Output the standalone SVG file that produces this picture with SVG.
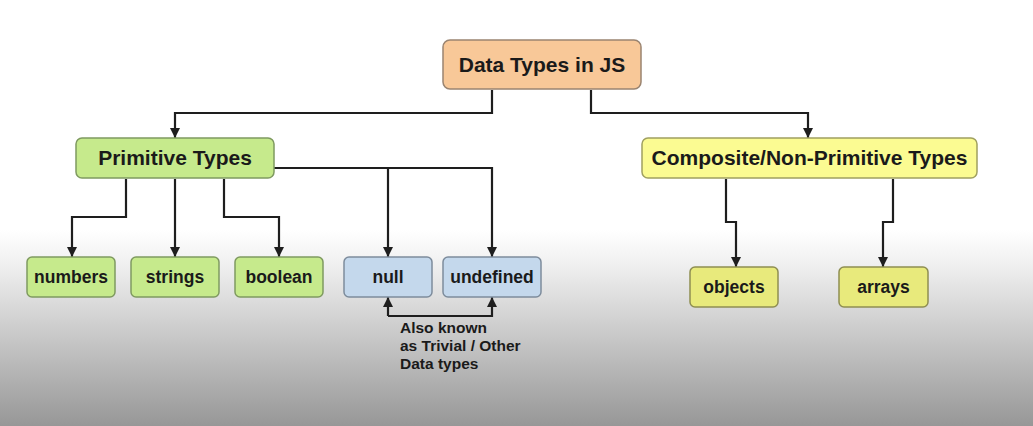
<svg xmlns="http://www.w3.org/2000/svg" width="1033" height="426" viewBox="0 0 1033 426">
<defs>
<linearGradient id="bg" x1="0" y1="0" x2="0" y2="1">
<stop offset="0" stop-color="#ffffff"/>
<stop offset="0.54" stop-color="#ffffff"/>
<stop offset="0.62" stop-color="#f0f0f0"/>
<stop offset="1" stop-color="#979797"/>
</linearGradient>
<marker id="arr" viewBox="0 0 10 10" refX="10" refY="5" markerWidth="10" markerHeight="10" markerUnits="userSpaceOnUse" orient="auto">
<path d="M0,0 L10,5 L0,10 Z" fill="#1e1e1e"/>
</marker>
<style>
.lbl{font-family:"Liberation Sans",Arial,sans-serif;font-weight:bold;fill:#1a1a1a;text-anchor:middle}
.big{font-size:21px}
.small{font-size:17.5px}
.note{font-family:"Liberation Sans",Arial,sans-serif;font-weight:bold;font-size:15.5px;fill:#1a1a1a}
.c{fill:none;stroke:#1e1e1e;stroke-width:2.2}
.root{fill:#f8c898;stroke:#9a8470;stroke-width:1.5}
.green{fill:#c6ea8c;stroke:#7f9a60;stroke-width:1.5}
.blue{fill:#c4d8ec;stroke:#7d8c9c;stroke-width:1.5}
.yellow{fill:#fbfb92;stroke:#a0a060;stroke-width:1.5}
.yleaf{fill:#e8ea7c;stroke:#8e8e52;stroke-width:1.5}
</style>
</defs>
<rect x="0" y="0" width="1033" height="426" fill="url(#bg)"/>
<g id="connectors">
<path class="c" d="M492,90 V113 H175 V138" marker-end="url(#arr)"/>
<path class="c" d="M591,90 V113 H808 V138" marker-end="url(#arr)"/>
<path class="c" d="M126,179 V217 H72 V257" marker-end="url(#arr)"/>
<path class="c" d="M175,179 V257" marker-end="url(#arr)"/>
<path class="c" d="M224,179 V217 H279 V257" marker-end="url(#arr)"/>
<path class="c" d="M274,168 H492 V257" marker-end="url(#arr)"/>
<path class="c" d="M388,168 V257" marker-end="url(#arr)"/>
<path class="c" d="M388,316 V297" marker-end="url(#arr)"/>
<path class="c" d="M388,316 H492 V297" marker-end="url(#arr)"/>
<path class="c" d="M726,179 V222 H736 V267" marker-end="url(#arr)"/>
<path class="c" d="M893,179 V222 H883 V267" marker-end="url(#arr)"/>
</g>
<g id="root"><rect class="root" x="443" y="40" width="198" height="49" rx="7"/><text class="lbl big" x="542" y="72">Data Types in JS</text></g>
<g id="primitive"><rect class="green" x="76" y="138" width="198" height="40" rx="6"/><text class="lbl big" x="175" y="165">Primitive Types</text></g>
<g id="composite"><rect class="yellow" x="642" y="138" width="335" height="40" rx="6"/><text class="lbl big" x="809.5" y="165">Composite/Non-Primitive Types</text></g>
<g id="numbers"><rect class="green" x="27" y="257" width="88" height="40" rx="5"/><text class="lbl small" x="71" y="283">numbers</text></g>
<g id="strings"><rect class="green" x="131" y="257" width="88" height="40" rx="5"/><text class="lbl small" x="175" y="283">strings</text></g>
<g id="boolean"><rect class="green" x="235" y="257" width="88" height="40" rx="5"/><text class="lbl small" x="279" y="283">boolean</text></g>
<g id="null"><rect class="blue" x="344" y="257" width="88" height="40" rx="5"/><text class="lbl small" x="388" y="283">null</text></g>
<g id="undefined"><rect class="blue" x="443" y="257" width="98" height="40" rx="5"/><text class="lbl small" x="492" y="283">undefined</text></g>
<g id="objects"><rect class="yleaf" x="690" y="267" width="88" height="40" rx="5"/><text class="lbl small" x="734" y="293">objects</text></g>
<g id="arrays"><rect class="yleaf" x="839" y="267" width="89" height="40" rx="5"/><text class="lbl small" x="883.5" y="293">arrays</text></g>
<g id="note"><text class="note" x="400" y="333">Also known</text><text class="note" x="400" y="351">as Trivial / Other</text><text class="note" x="400" y="369">Data types</text></g>
</svg>
